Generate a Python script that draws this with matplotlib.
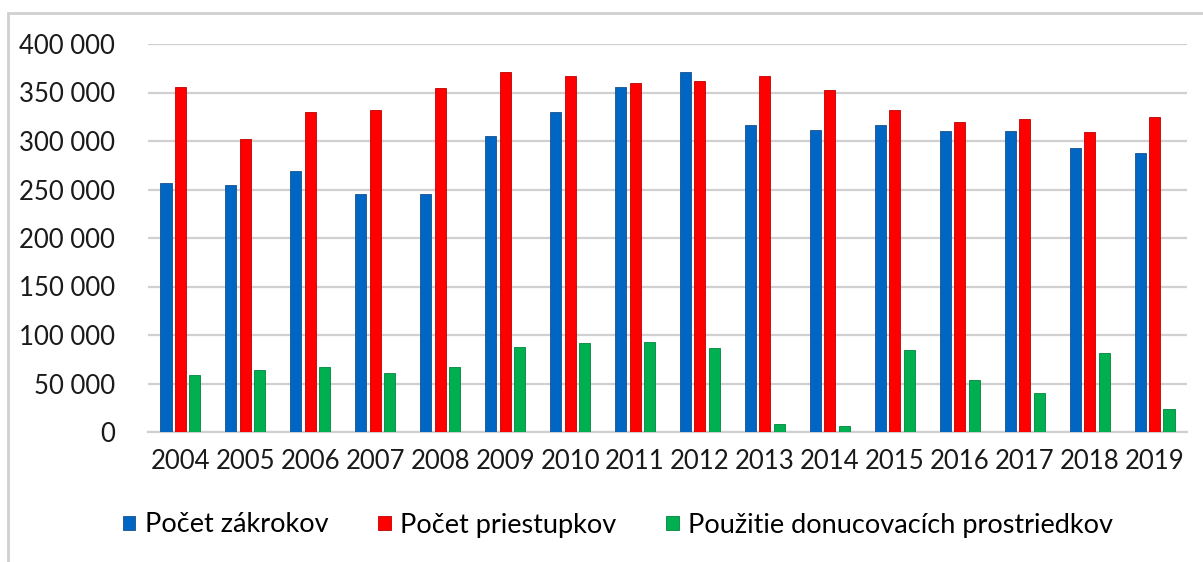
import matplotlib

matplotlib.use("Agg")
import matplotlib.pyplot as plt
import numpy as np
from matplotlib.patches import Rectangle
from matplotlib.ticker import FuncFormatter

years = [str(y) for y in range(2004, 2020)]
zakroky = [257000, 255000, 269000, 245500, 245500, 305000, 330000, 356000,
           371000, 316000, 311500, 317000, 310500, 310500, 293000, 288000]
priestupky = [356000, 302000, 330000, 331500, 355000, 371000, 367000, 359500,
              362000, 367000, 352500, 331500, 320000, 322500, 309000, 325000]
donucovanie = [58500, 63500, 66500, 61000, 66500, 87500, 91500, 93000,
               86500, 8500, 5800, 85000, 53500, 40500, 81000, 24000]

series = [
    ("Počet zákrokov", zakroky, "#0066c4", "#1a4f8a"),
    ("Počet priestupkov", priestupky, "#ff0000", "#c00000"),
    ("Použitie donucovacích prostriedkov", donucovanie, "#00b050", "#00843c"),
]

plt.rcParams["font.family"] = ["Lato", "DejaVu Sans"]

fig = plt.figure(figsize=(12.03, 5.62), dpi=100)
fig.patches.append(Rectangle((8 / 1203, -0.05), 1.2, 1 - 13 / 562 + 0.05,
                             transform=fig.transFigure, fill=False,
                             edgecolor="#d0d0d0", linewidth=2, zorder=0))
ax = fig.add_axes([148 / 1203, 130 / 562, 1039 / 1203, 388 / 562])

x = np.arange(len(years))
width = 0.17
step = 0.223
for i, (label, vals, color, edge) in enumerate(series):
    ax.bar(x + (i - 1) * step, vals, width, color=color, edgecolor=edge,
           linewidth=0.6, label=label, zorder=3)

ax.set_xlim(-0.5, len(years) - 0.5)
ax.set_ylim(0, 400000)
ax.set_yticks(range(0, 400001, 50000))
ax.yaxis.set_major_formatter(
    FuncFormatter(lambda v, _: f"{int(v):,}".replace(",", " ")))
ax.set_xticks(x)
ax.set_xticklabels(years)
ax.tick_params(axis="both", length=0, labelsize=18.5, colors="#1a1a1a")
ax.tick_params(axis="y", pad=24)
ax.tick_params(axis="x", pad=12)
ax.grid(axis="y", color="#d0d0d0", linewidth=1.6, zorder=0)
for side in ("top", "right", "left"):
    ax.spines[side].set_visible(False)
ax.spines["bottom"].set_color("#d0d0d0")
ax.spines["bottom"].set_linewidth(1.6)

fig.legend(loc="center", bbox_to_anchor=(618 / 1203, 1 - 525 / 562), ncol=3,
           frameon=False, fontsize=19.5, handlelength=0.45, handleheight=0.45,
           handletextpad=0.35, columnspacing=1.85)

fig.savefig("out.png", dpi=100)
